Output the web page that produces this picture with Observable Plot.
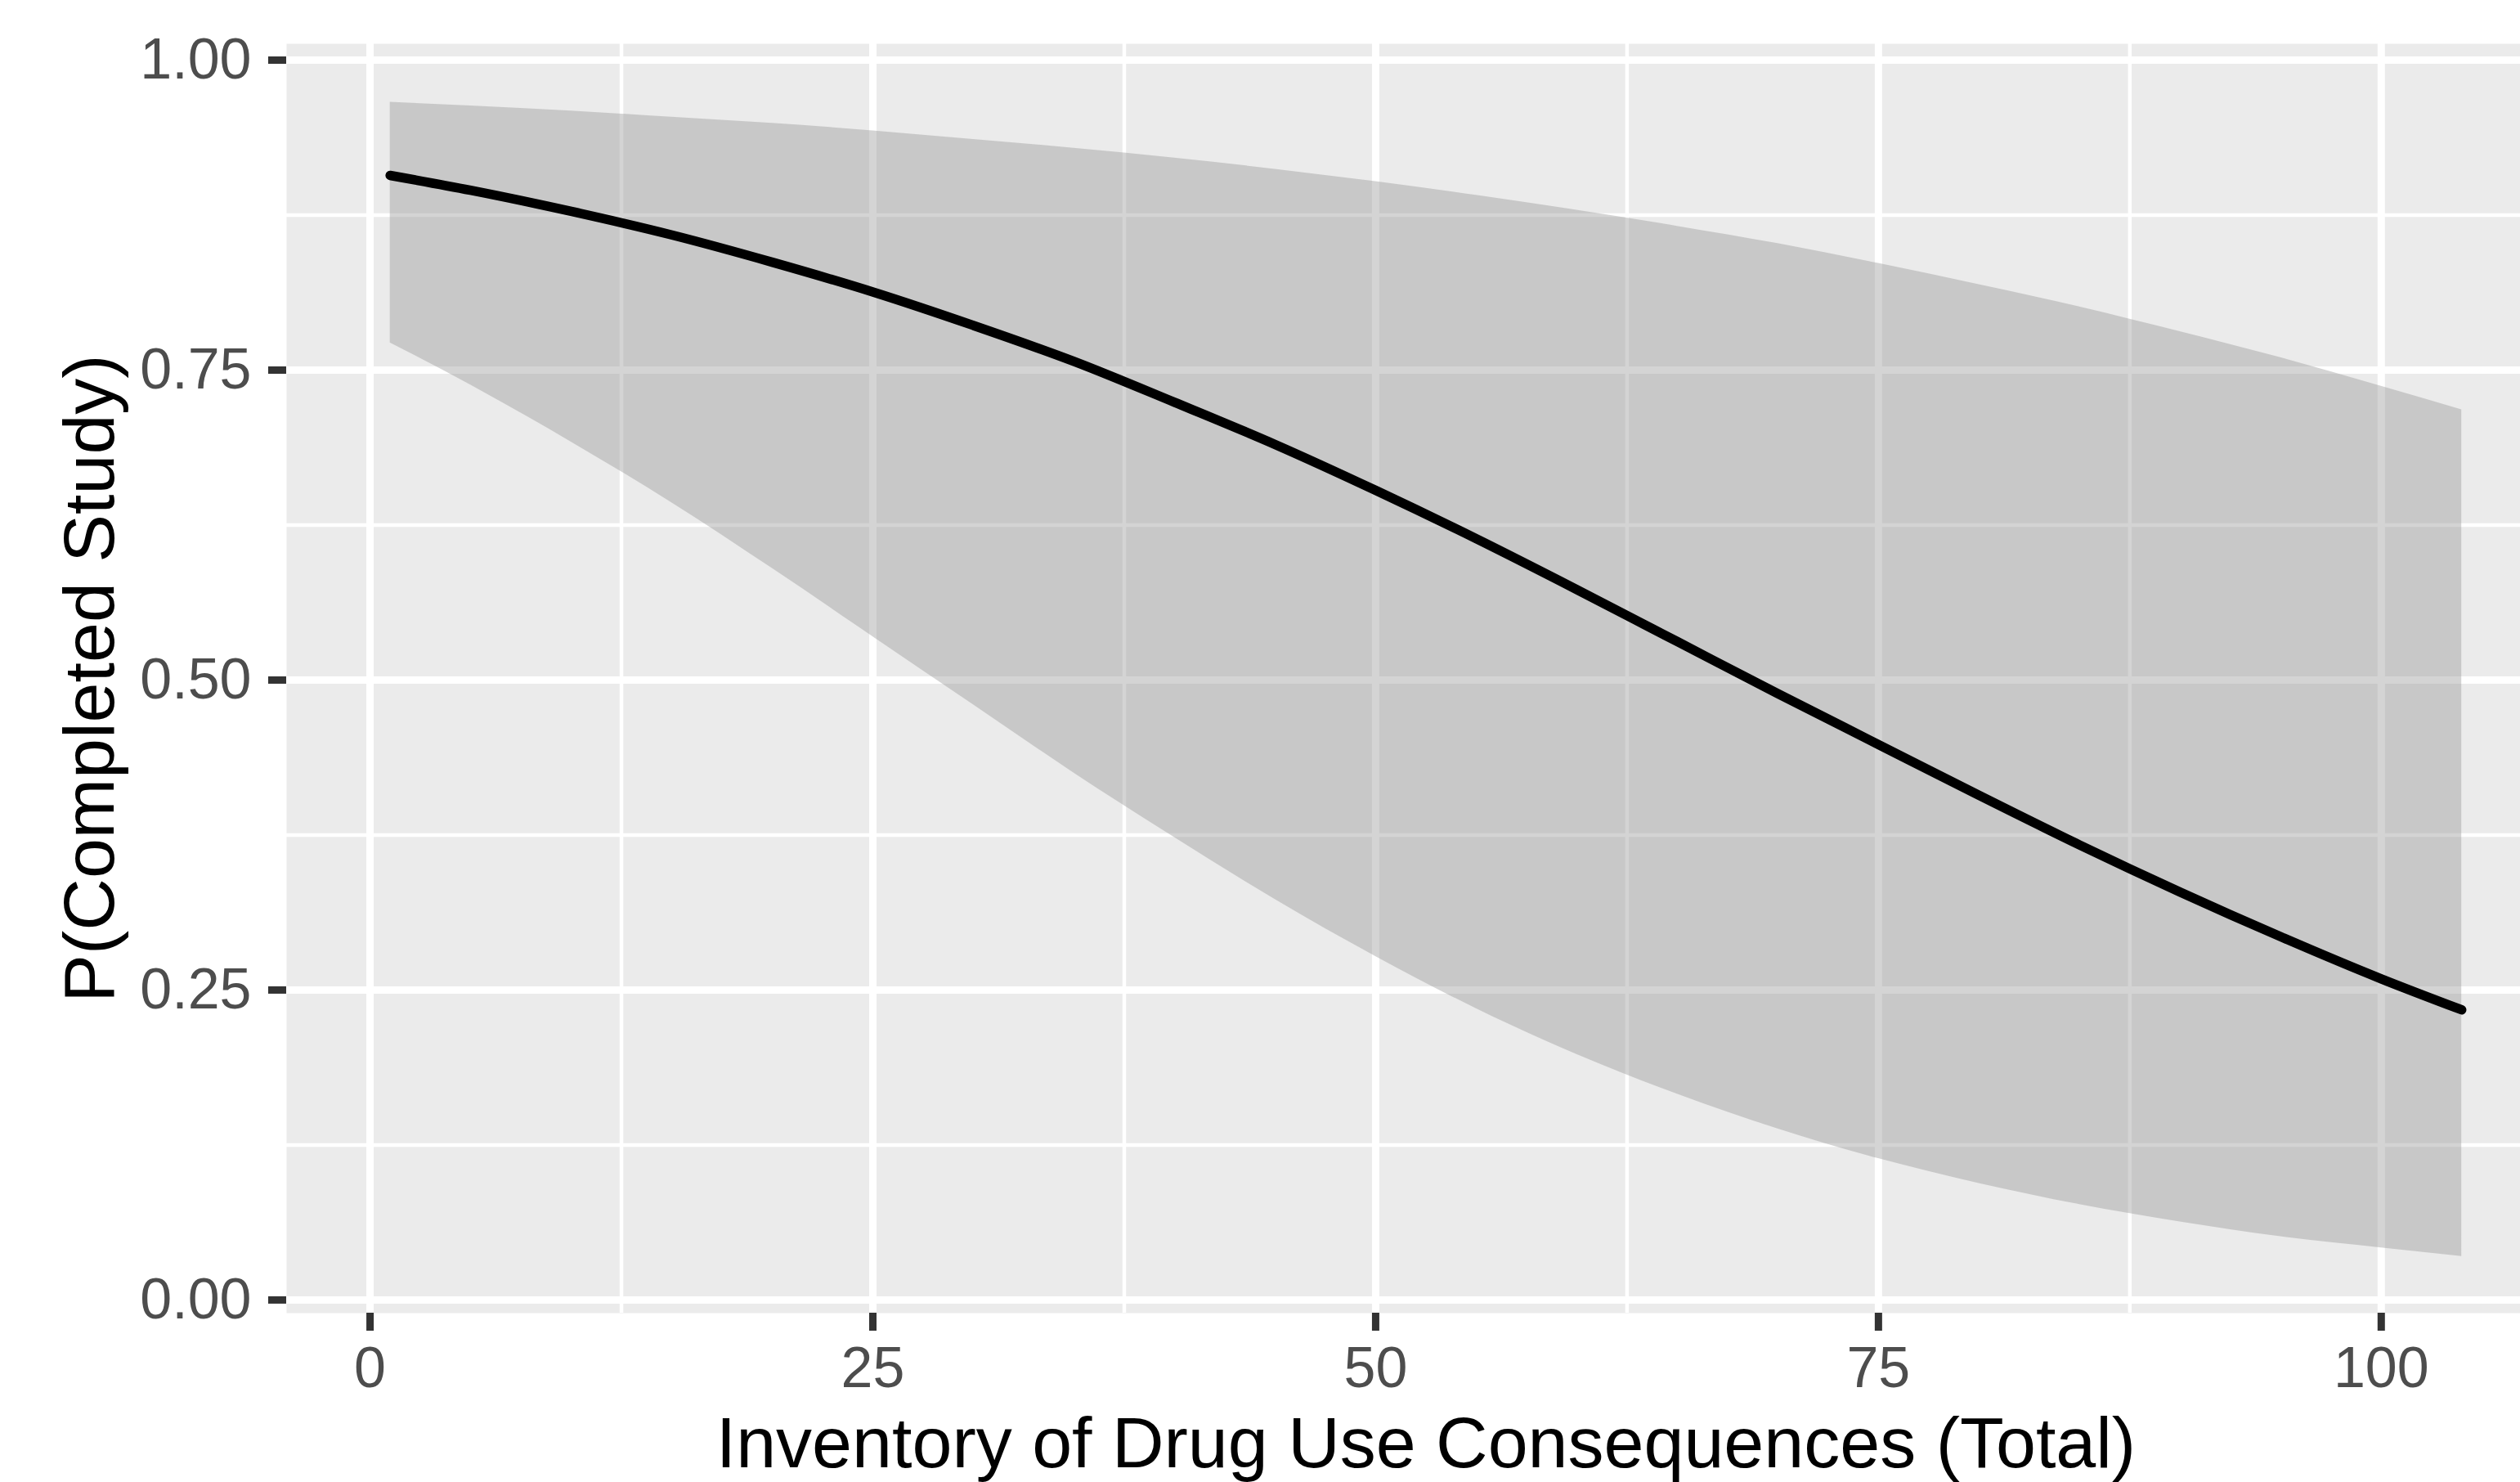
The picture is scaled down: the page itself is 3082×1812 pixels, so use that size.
<!DOCTYPE html>
<html>
<head>
<meta charset="utf-8">
<script src="https://cdn.jsdelivr.net/npm/d3@7"></script>
<script src="https://cdn.jsdelivr.net/npm/@observablehq/plot@0.6"></script>
<style>
  html, body { margin: 0; padding: 0; background: #ffffff; }
  #chart { width: 3082px; height: 1812px; overflow: hidden; }
</style>
</head>
<body>
<div id="chart"></div>
<script>
// Values
const idcTotal = [1, 5, 10, 15, 20, 25, 30, 35, 40, 45, 50, 55, 60, 65, 70, 75, 80, 85, 90, 95, 100, 104];
const pFit   = [0.907, 0.895, 0.878, 0.859, 0.837, 0.813, 0.786, 0.757, 0.724, 0.690, 0.653, 0.614, 0.573, 0.531, 0.489, 0.448, 0.407, 0.367, 0.329, 0.293, 0.259, 0.234];
const pLower = [0.772, 0.738, 0.692, 0.643, 0.590, 0.535, 0.480, 0.425, 0.373, 0.323, 0.277, 0.235, 0.198, 0.166, 0.138, 0.114, 0.094, 0.077, 0.063, 0.051, 0.042, 0.035];
const pUpper = [0.966, 0.963, 0.959, 0.954, 0.949, 0.943, 0.936, 0.929, 0.921, 0.912, 0.902, 0.891, 0.879, 0.866, 0.852, 0.836, 0.819, 0.801, 0.781, 0.760, 0.737, 0.718];

const xMajorTicks = [0, 25, 50, 75, 100];
const xMinorTicks = [12.5, 37.5, 62.5, 87.5];
const yMajorTicks = [0, 0.25, 0.5, 0.75, 1];
const yMinorTicks = [0.125, 0.375, 0.625, 0.875];

const xTitle = "Inventory of Drug Use Consequences (Total)";
const yTitle = "P(Completed Study)";

const rows = idcTotal.map((x, i) => ({x, fit: pFit[i], lo: pLower[i], hi: pUpper[i]}));

// ggplot-style 5% expansion of the data range
const xMin = d3.min(idcTotal), xMax = d3.max(idcTotal);
const xPad = (xMax - xMin) * 0.05;
const xCenter = (xMin + xMax) / 2;

const plot = Plot.plot({
  width: 3082,
  height: 1812,
  marginLeft: 350,
  marginRight: 0,
  marginTop: 53,
  marginBottom: 207,
  style: {fontFamily: "'Liberation Sans', Arial, sans-serif", background: "#ffffff", overflow: "hidden"},
  x: {domain: [xMin - xPad, 106.92]},
  y: {domain: [-0.0106, 1.0132]},
  marks: [
    Plot.frame({fill: "#EBEBEB", stroke: null}),
    Plot.ruleX(xMinorTicks, {stroke: "#ffffff", strokeWidth: 4.5}),
    Plot.ruleY(yMinorTicks, {stroke: "#ffffff", strokeWidth: 4.5}),
    Plot.ruleX(xMajorTicks, {stroke: "#ffffff", strokeWidth: 9}),
    Plot.ruleY(yMajorTicks, {stroke: "#ffffff", strokeWidth: 9}),
    Plot.areaY(rows, {x: "x", y1: "lo", y2: "hi", fill: "#999999", fillOpacity: 0.42, curve: "monotone-x"}),
    Plot.line(rows, {x: "x", y: "fit", stroke: "#000000", strokeWidth: 11.5, curve: "monotone-x"}),
    Plot.axisX({ticks: xMajorTicks, tickSize: 22, tickPadding: 19, fontSize: 70, stroke: "#333333", strokeWidth: 9, fill: "#4D4D4D", label: null, tickFormat: d3.format("d")}),
    Plot.axisY({ticks: yMajorTicks, tickSize: 22, tickPadding: 21, fontSize: 70, stroke: "#333333", strokeWidth: 9, fill: "#4D4D4D", label: null, tickFormat: d3.format(".2f")}),
    Plot.text([xTitle], {x: xCenter, frameAnchor: "bottom", dy: 160, lineAnchor: "middle", textAnchor: "middle", fontSize: 88, fill: "#000000"}),
    Plot.text([yTitle], {frameAnchor: "left", dx: -240, rotate: -90, lineAnchor: "middle", textAnchor: "middle", fontSize: 88, fill: "#000000"})
  ]
});
document.getElementById("chart").appendChild(plot);
</script>
</body>
</html>
